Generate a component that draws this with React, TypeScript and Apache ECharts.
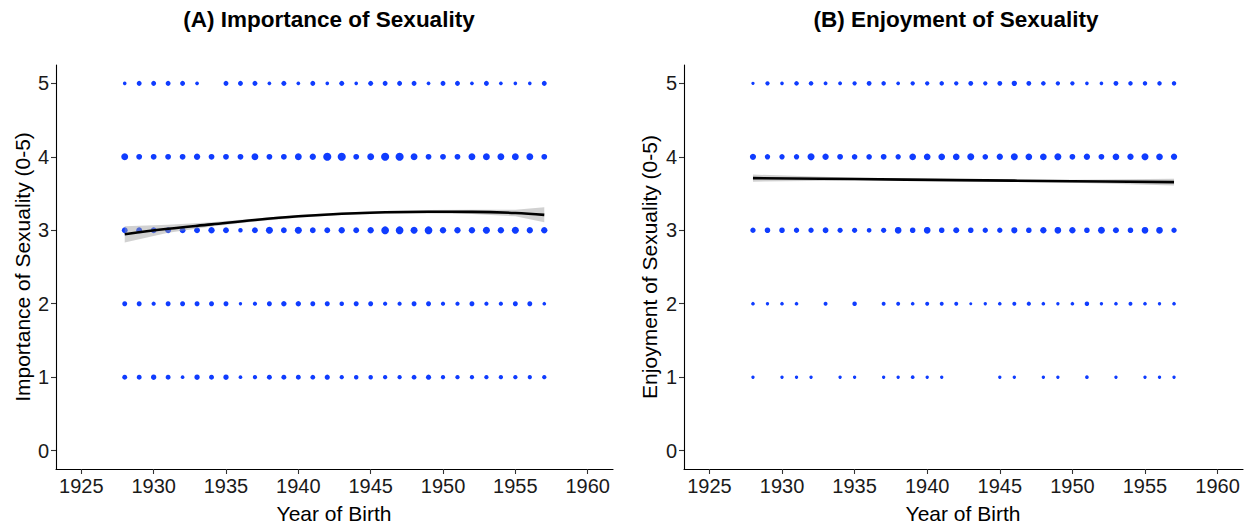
import React, { useEffect, useRef } from "react";
import * as echarts from "echarts";

const years = [1928,1929,1930,1931,1932,1933,1934,1935,1936,1937,1938,1939,1940,1941,1942,1943,1944,1945,1946,1947,1948,1949,1950,1951,1952,1953,1954,1955,1956,1957];
const xTicks = [1925, 1930, 1935, 1940, 1945, 1950, 1955, 1960];
const yTicks = [0, 1, 2, 3, 4, 5];

// Panel A: counts of respondents per (year, rating); 0 = none
const aRow5 = [6,11,11,11,11,6,0,11,11,11,6,11,6,11,6,11,6,11,11,11,11,6,11,11,6,11,6,6,6,11];
const aRow4 = [21,15,15,15,15,18,15,15,15,21,15,15,21,18,29,29,15,21,29,29,21,15,15,15,21,21,21,21,21,15];
const aRow3 = [15,15,15,15,15,15,18,15,9,15,22,15,22,15,15,18,15,18,27,27,22,27,18,18,18,22,18,22,18,18];
const aRow2 = [11,11,8,11,11,11,11,11,5,8,11,13,13,11,11,9,11,11,8,8,11,11,8,8,11,8,8,11,11,6];
const aRow1 = [11,11,13,11,6,13,11,13,6,8,11,11,11,10,12,8,9,9,8,8,10,12,8,8,8,8,8,8,8,8];

// Panel B
const bRow5 = [5,8,6,9,9,7,7,8,10,9,6,8,8,9,8,10,8,10,13,10,9,8,8,6,6,10,9,9,9,9];
const bRow4 = [17,13,13,13,22,18,15,14,14,15,13,20,20,20,20,22,14,18,22,20,20,22,15,18,15,20,18,22,20,18];
const bRow3 = [13,14,14,13,13,15,12,12,10,12,20,14,20,14,16,14,13,13,17,14,18,20,18,14,21,16,14,20,20,13];
const bRow2 = [6,5,6,6,0,7,0,9,0,7,7,6,7,7,7,4,5,6,7,8,6,5,6,9,5,6,7,6,5,6];
const bRow1 = [5,0,5,5,5,0,5,5,0,5,5,6,5,5,0,0,0,5,5,0,5,5,0,6,0,5,0,5,5,5];

// Smoothed fits with confidence bands
const aFitYears = [1928,1931,1934,1937,1940,1943,1946,1949,1952,1955,1957];
const aFit = [2.945,3.02,3.08,3.14,3.19,3.225,3.245,3.252,3.25,3.235,3.21];
const aLower = [2.835,2.965,3.05,3.12,3.172,3.207,3.226,3.23,3.222,3.19,3.11];
const aUpper = [3.055,3.075,3.11,3.16,3.208,3.243,3.264,3.275,3.28,3.28,3.315];

const bFitYears = [1928,1935,1942,1950,1957];
const bFit = [3.71,3.697,3.683,3.668,3.655];
const bLower = [3.662,3.678,3.668,3.648,3.608];
const bUpper = [3.758,3.716,3.698,3.688,3.702];

const titles = ["(A) Importance of Sexuality", "(B) Enjoyment of Sexuality"];
const yTitles = ["Importance of Sexuality (0-5)", "Enjoyment of Sexuality (0-5)"];
const xTitle = "Year of Birth";

const FONT = "'Liberation Sans', Arial, Helvetica, sans-serif";
const DOT = "#0f3cff";

function buildPoints(rows: number[][]) {
  const out: number[][] = [];
  rows.forEach((row, ri) => {
    const rating = 5 - ri;
    row.forEach((n, i) => {
      if (n > 0) out.push([years[i], rating, n]);
    });
  });
  return out;
}

function bandSeries(idx: number, fy: number[], lo: number[], hi: number[]) {
  return {
    type: "custom",
    xAxisIndex: idx,
    yAxisIndex: idx,
    z: 3,
    silent: true,
    data: fy.map((y, i) => [y, lo[i], hi[i]]),
    renderItem: (params: any, api: any) => {
      if (params.dataIndex !== 0) return null;
      const top = fy.map((y, i) => api.coord([y, hi[i]]));
      const bot = fy.map((y, i) => api.coord([y, lo[i]])).reverse();
      return {
        type: "polygon",
        shape: { points: top.concat(bot) },
        style: { fill: "rgba(153,153,153,0.45)", stroke: "none" },
      };
    },
  };
}

function axisPair(idx: number) {
  const common = {
    gridIndex: idx,
    type: "value",
    axisLine: { show: true, onZero: false, lineStyle: { color: "#000", width: 1.1 } },
    axisTick: { show: true, length: 5, lineStyle: { color: "#333", width: 1.1 } },
    splitLine: { show: false },
    axisLabel: { color: "#1a1a1a", fontSize: 20, fontFamily: FONT, margin: 6, formatter: (v: number) => String(v) },
  };
  return {
    x: {
      ...common,
      min: 1923.25,
      max: 1961.75,
      axisTick: { ...common.axisTick, customValues: xTicks },
      axisLabel: { ...common.axisLabel, customValues: xTicks, margin: 7 },
    },
    y: {
      ...common,
      min: -0.25,
      max: 5.25,
      axisTick: { ...common.axisTick, customValues: yTicks },
      axisLabel: { ...common.axisLabel, customValues: yTicks, margin: 7 },
    },
  };
}

export default function App() {
  const ref = useRef<HTMLDivElement>(null);
  useEffect(() => {
    if (!ref.current) return;
    const chart = echarts.init(ref.current, null, { renderer: "svg" });
    const a0 = axisPair(0);
    const a1 = axisPair(1);
    const sizeFn = (v: number[]) => 1.5 * Math.sqrt(v[2]);
    const textStyle = (size: number, bold: boolean) => ({
      font: `${bold ? "bold " : ""}${size}px ${FONT}`,
      fill: "#000",
      align: "center",
      verticalAlign: "middle",
      textAlign: "center",
      textVerticalAlign: "middle",
    });
    const option: any = {
      animation: false,
      backgroundColor: "#fff",
      textStyle: { fontFamily: FONT },
      grid: [
        { left: 56, top: 65, width: 557, height: 404 },
        { left: 684, top: 65, width: 559, height: 404 },
      ],
      xAxis: [a0.x, a1.x],
      yAxis: [a0.y, a1.y],
      series: [
        {
          type: "scatter",
          xAxisIndex: 0,
          yAxisIndex: 0,
          z: 2,
          data: buildPoints([aRow5, aRow4, aRow3, aRow2, aRow1]),
          symbolSize: sizeFn,
          itemStyle: { color: DOT, opacity: 1 },
        },
        {
          type: "scatter",
          xAxisIndex: 1,
          yAxisIndex: 1,
          z: 2,
          data: buildPoints([bRow5, bRow4, bRow3, bRow2, bRow1]),
          symbolSize: sizeFn,
          itemStyle: { color: DOT, opacity: 1 },
        },
        bandSeries(0, aFitYears, aLower, aUpper),
        bandSeries(1, bFitYears, bLower, bUpper),
        {
          type: "line",
          xAxisIndex: 0,
          yAxisIndex: 0,
          z: 4,
          smooth: 0.4,
          showSymbol: false,
          data: aFitYears.map((y, i) => [y, aFit[i]]),
          lineStyle: { color: "#000", width: 2.6 },
        },
        {
          type: "line",
          xAxisIndex: 1,
          yAxisIndex: 1,
          z: 4,
          smooth: 0.4,
          showSymbol: false,
          data: bFitYears.map((y, i) => [y, bFit[i]]),
          lineStyle: { color: "#000", width: 2.6 },
        },
      ],
      graphic: [
        { type: "text", x: 329, y: 19, style: { text: titles[0], ...textStyle(22.5, true) } },
        { type: "text", x: 956, y: 19, style: { text: titles[1], ...textStyle(22.5, true) } },
        { type: "text", x: 22, y: 267, rotation: Math.PI / 2, style: { text: yTitles[0], ...textStyle(21, false) } },
        { type: "text", x: 649, y: 267, rotation: Math.PI / 2, style: { text: yTitles[1], ...textStyle(21, false) } },
        { type: "text", x: 334, y: 513, style: { text: xTitle, ...textStyle(21, false) } },
        { type: "text", x: 963, y: 513, style: { text: xTitle, ...textStyle(21, false) } },
      ],
    };
    chart.setOption(option);
    return () => chart.dispose();
  }, []);
  return (
    <div
      ref={ref}
      style={{ position: "fixed", left: 0, top: 0, width: 1250, height: 526, background: "#fff" }}
    />
  );
}
